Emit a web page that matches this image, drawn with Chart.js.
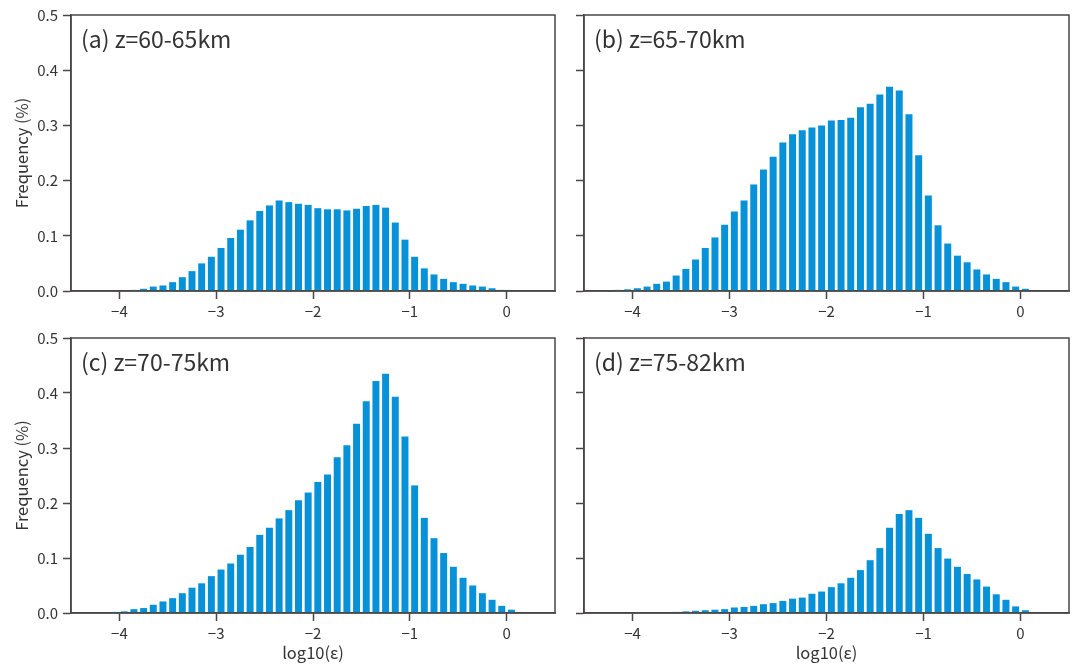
<!DOCTYPE html>
<html>
<head>
<meta charset="utf-8">
<script src="https://cdn.jsdelivr.net/npm/chart.js@4"></script>
<style>
  body { margin: 0; background: #fff; }
  .panel { position: absolute; }
</style>
</head>
<body>
<div class="panel" style="left:0;top:0"><canvas id="chartA" width="560" height="320"></canvas></div>
<div class="panel" style="left:560px;top:0"><canvas id="chartB" width="514" height="320"></canvas></div>
<div class="panel" style="left:0;top:320px"><canvas id="chartC" width="560" height="344"></canvas></div>
<div class="panel" style="left:560px;top:320px"><canvas id="chartD" width="514" height="344"></canvas></div>
<script>
// bin centres of log10(epsilon), width 0.1
const binCenters = [-4.25, -4.15, -4.05, -3.95, -3.85, -3.75, -3.65, -3.55, -3.45, -3.35,
    -3.25, -3.15, -3.05, -2.95, -2.85, -2.75, -2.65, -2.55, -2.45, -2.35,
    -2.25, -2.15, -2.05, -1.95, -1.85, -1.75, -1.65, -1.55, -1.45, -1.35,
    -1.25, -1.15, -1.05, -0.95, -0.85, -0.75, -0.65, -0.55, -0.45, -0.35,
    -0.25, -0.15, -0.05, 0.05];

// frequency (%) per bin
const freqA = [0, 0, 0, 0.001, 0.002, 0.004, 0.008, 0.010, 0.016, 0.025,
    0.036, 0.050, 0.062, 0.078, 0.096, 0.111, 0.128, 0.145, 0.155, 0.164,
    0.161, 0.158, 0.156, 0.150, 0.148, 0.148, 0.146, 0.149, 0.154, 0.156,
    0.151, 0.124, 0.093, 0.062, 0.041, 0.030, 0.022, 0.016, 0.013, 0.010,
    0.008, 0.005, 0.002, 0];
const freqB = [0, 0.002, 0.003, 0.005, 0.008, 0.013, 0.017, 0.028, 0.040, 0.057,
    0.078, 0.097, 0.120, 0.144, 0.164, 0.193, 0.220, 0.243, 0.269, 0.284,
    0.291, 0.296, 0.300, 0.309, 0.310, 0.314, 0.333, 0.339, 0.356, 0.370,
    0.363, 0.320, 0.246, 0.173, 0.119, 0.086, 0.064, 0.052, 0.039, 0.030,
    0.022, 0.016, 0.008, 0.004];
const freqC = [0, 0.001, 0.002, 0.003, 0.007, 0.009, 0.015, 0.021, 0.027, 0.036,
    0.046, 0.054, 0.067, 0.079, 0.090, 0.106, 0.120, 0.142, 0.155, 0.172,
    0.187, 0.205, 0.219, 0.238, 0.252, 0.283, 0.305, 0.344, 0.385, 0.422,
    0.435, 0.393, 0.321, 0.232, 0.173, 0.136, 0.109, 0.084, 0.064, 0.050,
    0.036, 0.024, 0.013, 0.006];
const freqD = [0, 0, 0, 0.0005, 0.001, 0.001, 0.001, 0.002, 0.003, 0.004,
    0.005, 0.006, 0.007, 0.010, 0.011, 0.013, 0.016, 0.018, 0.022, 0.026,
    0.028, 0.035, 0.039, 0.047, 0.054, 0.064, 0.078, 0.096, 0.118, 0.155,
    0.180, 0.187, 0.173, 0.144, 0.118, 0.099, 0.084, 0.071, 0.061, 0.048,
    0.034, 0.024, 0.012, 0.005];

const panelTitles = ['(a) z=60-65km', '(b) z=65-70km', '(c) z=70-75km', '(d) z=75-82km'];
const xTicks = [-4, -3, -2, -1, 0];
const yTicks = [0.0, 0.1, 0.2, 0.3, 0.4, 0.5];

const FONT = "'Noto Sans CJK SC', 'Noto Sans', sans-serif";
const AXIS_COLOR = '#4a4646';
const TEXT_COLOR = '#333333';
const BAR_COLOR = '#0791d9';

const framePlugin = {
    id: 'frame',
    afterDraw(chart, args, opts) {
        const {ctx, chartArea: a} = chart;
        ctx.save();
        ctx.strokeStyle = AXIS_COLOR;
        ctx.lineWidth = 1.5;
        ctx.strokeRect(a.left, a.top, a.right - a.left, a.bottom - a.top);
        ctx.fillStyle = TEXT_COLOR;
        ctx.font = '23px ' + FONT;
        ctx.textBaseline = 'middle';
        ctx.fillText(opts.label, a.left + 10, a.top + 24);
        ctx.restore();
    }
};

function makePanel(id, freq, label, showYLabels, showXTitle, padTop) {
    const points = binCenters.map((x, i) => ({x: x, y: freq[i]}));
    new Chart(document.getElementById(id), {
        type: 'bar',
        data: {
            datasets: [{
                data: points,
                backgroundColor: BAR_COLOR,
                borderWidth: 0,
                barPercentage: 0.72,
                categoryPercentage: 1.0
            }]
        },
        plugins: [framePlugin],
        options: {
            responsive: false,
            animation: false,
            layout: { padding: { top: padTop, right: 5, left: 0, bottom: 0 } },
            plugins: {
                legend: { display: false },
                tooltip: { enabled: false },
                frame: { label: label }
            },
            scales: {
                x: {
                    type: 'linear',
                    min: -4.5,
                    max: 0.5,
                    offset: false,
                    afterBuildTicks: s => { s.ticks = xTicks.map(v => ({value: v})); },
                    afterFit: s => { s.height = showXTitle ? 51 : 29; },
                    grid: { offset: false, drawOnChartArea: false, drawTicks: true, tickLength: 8, tickColor: AXIS_COLOR, tickWidth: 1.5 },
                    border: { display: true, color: AXIS_COLOR, width: 1.5 },
                    ticks: {
                        padding: 3,
                        color: TEXT_COLOR,
                        font: { family: FONT, size: 15 },
                        callback: v => v < 0 ? '\u2212' + Math.abs(v) : String(v)
                    },
                    title: {
                        display: showXTitle,
                        text: 'log10(\u03b5)',
                        color: TEXT_COLOR,
                        font: { family: FONT, size: 16.5 },
                        padding: { top: 0, bottom: 1 }
                    }
                },
                y: {
                    min: 0,
                    max: 0.5,
                    afterBuildTicks: s => { s.ticks = yTicks.map(v => ({value: v})); },
                    afterFit: s => { s.width = showYLabels ? 71 : 24; },
                    grid: { drawOnChartArea: false, drawTicks: true, tickLength: 8, tickColor: AXIS_COLOR, tickWidth: 1.5 },
                    border: { display: true, color: AXIS_COLOR, width: 1.5 },
                    ticks: {
                        display: showYLabels,
                        padding: 5,
                        color: TEXT_COLOR,
                        font: { family: FONT, size: 15 },
                        callback: v => v.toFixed(1)
                    },
                    title: {
                        display: showYLabels,
                        text: 'Frequency (%)',
                        color: TEXT_COLOR,
                        font: { family: FONT, size: 16.5 },
                        padding: { top: 12, bottom: 0 }
                    }
                }
            }
        }
    });
}

makePanel('chartA', freqA, panelTitles[0], true, false, 15);
makePanel('chartB', freqB, panelTitles[1], false, false, 15);
makePanel('chartC', freqC, panelTitles[2], true, true, 18);
makePanel('chartD', freqD, panelTitles[3], false, true, 18);
</script>
</body>
</html>
